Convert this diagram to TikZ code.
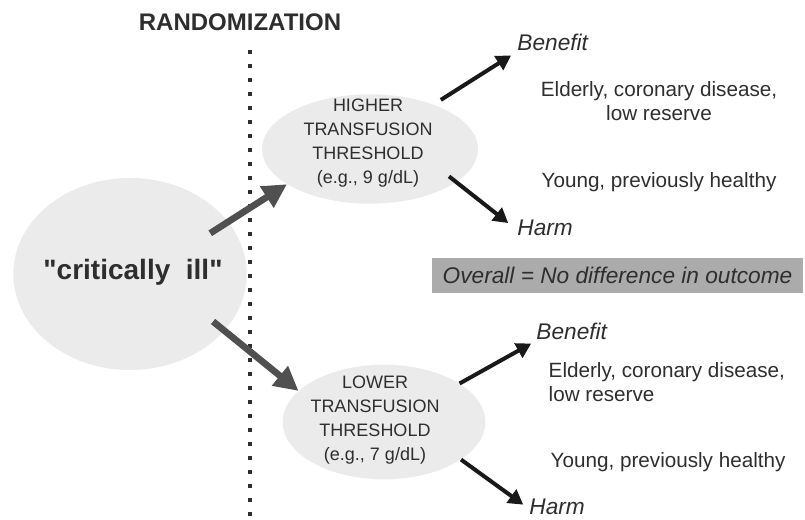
\documentclass[tikz,border=0pt]{standalone}
\usepackage{fontspec}
\setmainfont{Liberation Sans}[Ligatures=TeXOff]
\usetikzlibrary{positioning,shapes,arrows.meta}
\usepackage{xcolor}
\definecolor{blobgray}{HTML}{EBEBEB}
\definecolor{txtgray}{HTML}{2E2E2E}
\definecolor{arrgray}{HTML}{505050}
\definecolor{boxgray}{HTML}{ABABAB}

\begin{document}
\begin{tikzpicture}[x=0.75pt, y=-0.75pt,
    blob/.style={ellipse, fill=blobgray, inner sep=0pt},
    thr/.style={align=center, text=txtgray, font=\fontsize{13.5}{18}\selectfont},
    grp/.style={text=txtgray, font=\fontsize{15.5}{17.5}\selectfont},
    res/.style={anchor=west, inner sep=2pt, text=txtgray, font=\fontsize{17}{17}\selectfont\itshape},
    bigarrow/.style={draw=arrgray, line width=5pt, -{Triangle[length=18pt,width=18pt]}},
    smallarrow/.style={draw=black!90, line width=3pt, -{Triangle[length=11pt,width=12pt]}}]
  \useasboundingbox (0,0) rectangle (805,520);

  % the three groups
  \node[blob, minimum width=175pt, minimum height=144pt] (ill) at (130,274) {};
  \node[blob, minimum width=162pt, minimum height=82pt] (higher) at (370,149) {};
  \node[blob, minimum width=152pt, minimum height=86pt] (lower) at (384,422) {};
  \node[text=txtgray, font=\fontsize{21}{21}\selectfont\bfseries] (illtxt) at (133,272) {"critically~~ill"};
  \node[thr] (highertxt) at (368,143) {HIGHER\\TRANSFUSION\\THRESHOLD\\(e.g., 9 g/dL)};
  \node[thr] (lowertxt) at (375,420) {LOWER\\TRANSFUSION\\THRESHOLD\\(e.g., 7 g/dL)};

  % randomization line
  \node[text=txtgray, font=\fontsize{18}{18}\selectfont\bfseries] (rand) at (240,22) {RANDOMIZATION};
  \coordinate (divtop) at (250,50);
  \coordinate (divbot) at (250,516);
  \draw[txtgray, line width=3.3pt, dash pattern=on 3.3pt off 7.2pt] (divtop) -- (divbot);

  % outcomes
  \node[res] (ben1) at (514.5,42) {Benefit};
  \node[res] (harm1) at (514.5,228) {Harm};
  \node[res] (ben2) at (533.5,331) {Benefit};
  \node[res] (harm2) at (526.5,507) {Harm};
  \node[grp, align=center] (old1) at (659,101) {Elderly, coronary disease,\\low reserve};
  \node[grp] (young1) at (659,182) {Young, previously healthy};
  \node[grp, align=left, anchor=west] (old2) at (544,382) {Elderly, coronary disease,\\low reserve};
  \node[grp, anchor=west] (young2) at (546,462) {Young, previously healthy};
  \node[fill=boxgray, minimum width=278pt, minimum height=26pt, text=txtgray,
        font=\fontsize{17}{17}\selectfont\itshape] (overall) at (617.5,275.5) {Overall = No difference in outcome};

  \draw[bigarrow, shorten <=-16pt] (ill.28) -- (higher.203);
  \draw[bigarrow, shorten <=-11pt] (ill.-31) -- (lower.160);
  \draw[smallarrow, shorten <=6.5pt, shorten >=3pt] (higher.35) -- (ben1.south west);
  \draw[smallarrow, shorten <=-7pt, shorten >=6pt] (higher.-21) -- (harm1.west);
  \draw[smallarrow, shorten >=2pt] (lower.27) -- (ben2.south west);
  \draw[smallarrow, shorten >=3pt] (lower.-26) -- (harm2.west);
\end{tikzpicture}
\end{document}
